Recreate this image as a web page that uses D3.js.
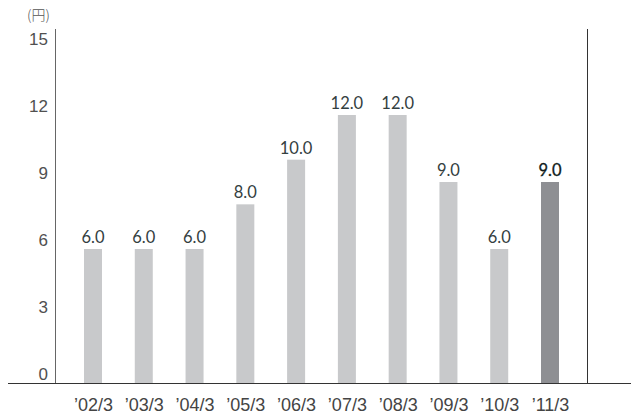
<!DOCTYPE html>
<html>
<head>
<meta charset="utf-8">
<script src="https://cdn.jsdelivr.net/npm/d3@7/dist/d3.min.js"></script>
<style>
  html, body { margin: 0; padding: 0; background: #fff; }
  svg { display: block; font-family: Lato, "Noto Sans", sans-serif; }
</style>
</head>
<body>
<svg id="chart" width="631" height="415"></svg>
<script>
// Dividend per share (yen), fiscal years ending March
const categories = ["\u201902/3", "\u201903/3", "\u201904/3", "\u201905/3", "\u201906/3",
                    "\u201907/3", "\u201908/3", "\u201909/3", "\u201910/3", "\u201911/3"];
const dividends = [6.0, 6.0, 6.0, 8.0, 10.0, 12.0, 12.0, 9.0, 6.0, 9.0];
const yTicks = [0, 3, 6, 9, 12, 15];
const unitLabel = "(円)";

const svg = d3.select("#chart");

const x = d3.scalePoint().domain(categories).range([93, 550]);
const y = d3.scaleLinear().domain([0, 15]).range([383, 48]);
const barW = 18;
const lastIdx = categories.length - 1;
const valueFont = "Lato, 'Noto Sans', sans-serif";
const axisFont = "'Liberation Sans', Arial, sans-serif";

// Bars
svg.append("g").selectAll("rect")
  .data(dividends)
  .join("rect")
  .attr("x", (d, i) => x(categories[i]) - barW / 2)
  .attr("y", d => y(d))
  .attr("width", barW)
  .attr("height", d => y(0) - y(d))
  .attr("fill", (d, i) => i === lastIdx ? "#8e8f93" : "#c8c9cb");

// Value labels (latest year emphasised)
svg.append("g").selectAll("text")
  .data(dividends)
  .join("text")
  .attr("x", (d, i) => x(categories[i]))
  .attr("y", d => y(d) - 6)
  .attr("text-anchor", "middle")
  .attr("font-family", valueFont)
  .attr("font-size", 16.5)
  .attr("fill", (d, i) => i === lastIdx ? "#101c1c" : "#34403f")
  .attr("stroke", (d, i) => i === lastIdx ? "#101c1c" : "none")
  .attr("stroke-width", 0.3)
  .text(d => d.toFixed(1));

// Y axis labels (no tick marks)
const yAxis = svg.append("g")
  .attr("transform", "translate(48,0)")
  .call(d3.axisLeft(y).tickValues(yTicks).tickSize(0).tickPadding(0).tickFormat(d3.format("d")));
yAxis.select(".domain").remove();
yAxis.selectAll("text")
  .attr("font-size", 17)
  .attr("font-family", axisFont)
  .attr("fill", "#505050")
  .attr("dy", "-0.2em");

// X axis labels
const xAxis = svg.append("g")
  .attr("transform", "translate(0,383)")
  .call(d3.axisBottom(x).tickSize(0).tickPadding(0));
xAxis.select(".domain").remove();
xAxis.selectAll("text")
  .attr("font-size", 18)
  .attr("font-family", axisFont)
  .attr("fill", "#444")
  .attr("dy", "1.55em");

// Frame lines
svg.append("line").attr("x1", 55.5).attr("x2", 55.5).attr("y1", 29).attr("y2", 383)
  .attr("stroke", "#666").attr("stroke-width", 1);
svg.append("line").attr("x1", 587.5).attr("x2", 587.5).attr("y1", 29).attr("y2", 383)
  .attr("stroke", "#333").attr("stroke-width", 1);
svg.append("line").attr("x1", 8).attr("x2", 631).attr("y1", 383.5).attr("y2", 383.5)
  .attr("stroke", "#333").attr("stroke-width", 1);

// Unit label
svg.append("text")
  .attr("x", 27).attr("y", 20)
  .attr("font-family", "'Noto Sans CJK JP', sans-serif")
  .attr("font-size", 14)
  .attr("font-weight", 300)
  .attr("fill", "#555")
  .text(unitLabel);
</script>
</body>
</html>
